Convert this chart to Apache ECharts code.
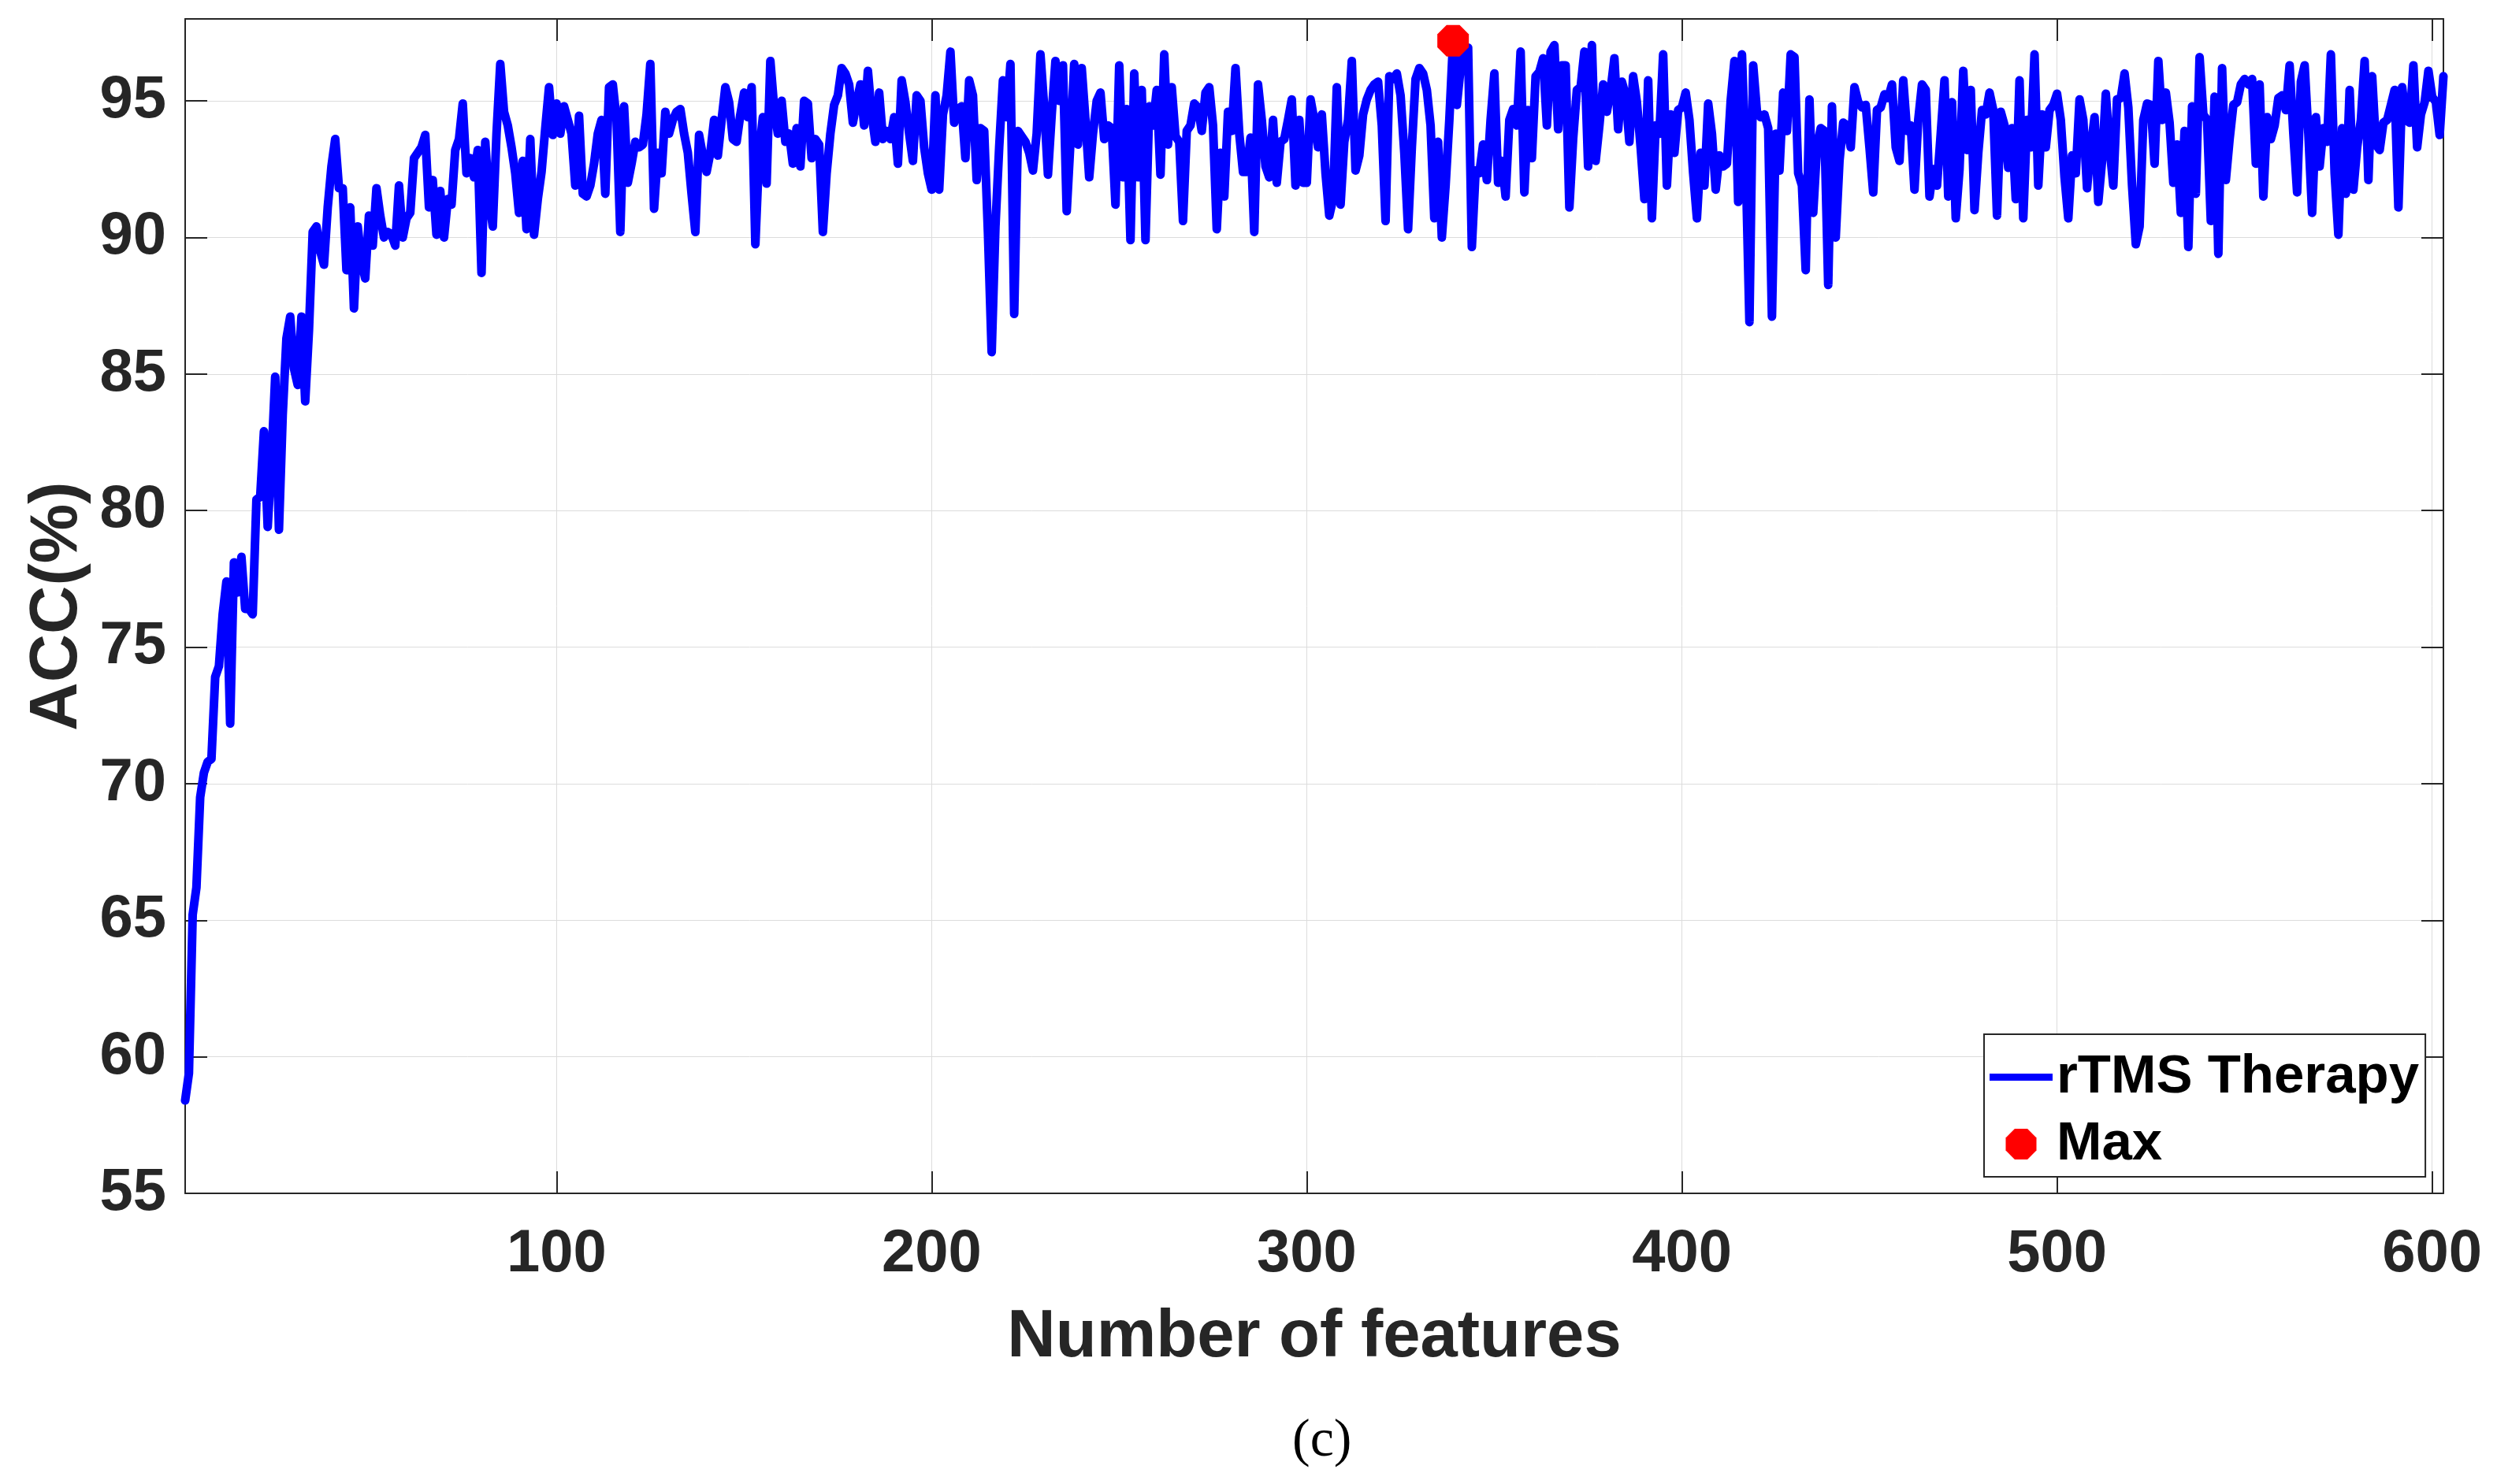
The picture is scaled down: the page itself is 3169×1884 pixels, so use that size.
<!DOCTYPE html>
<html>
<head>
<meta charset="utf-8">
<script src="https://cdn.jsdelivr.net/npm/echarts@6/dist/echarts.min.js"></script>
<style>
html,body{margin:0;padding:0;background:#ffffff;}
#chart{width:3169px;height:1884px;}
</style>
</head>
<body>
<div id="chart"></div>
<script>
// ---- data (ACC % for number of features 1..603) ----
const acc001 = [
58.4,59.4,65.2,66.2,69.5,70.4,70.8,70.9,73.9,74.3,
76.2,77.4,72.2,78.1,77.0,78.3,76.4,76.4,76.2,80.4,
80.5,82.9,79.4,81.8,84.9,79.3,83.5,86.3,87.1,85.2,
84.6,87.1,84.0,86.6,90.2,90.4,89.5,89.0,91.1,92.6,
93.6,91.8,91.8,88.8,91.1,87.4,90.4,89.1,88.5,90.8,
89.7,91.8,90.8,90.0,90.2,90.1,89.7,91.9,90.0,90.7,
90.9,92.9,93.1,93.3,93.75,91.1,92.1,90.1,91.7,90.0,
91.4,91.2,93.2,93.6,94.9,92.35,92.9,92.2,93.2,88.7,
93.5,91.4,90.4,93.8,96.35,94.6,94.1,93.3,92.35,90.9,
92.8,90.3,93.6,90.1,91.4,92.4,94.0,95.5,93.75,94.9
];
const acc101 = [
93.8,94.8,94.3,93.8,91.9,94.45,91.6,91.5,91.9,92.7,
93.8,94.3,91.6,95.5,95.6,94.3,90.2,94.8,92.0,92.7,
93.5,93.3,93.4,94.5,96.35,91.05,93.1,92.35,94.6,93.8,
94.3,94.6,94.7,93.8,93.1,91.6,90.2,93.75,93.0,92.4,
93.1,94.3,93.0,94.3,95.5,94.95,93.6,93.5,94.5,95.3,
94.4,95.5,89.75,93.1,94.4,91.97,96.46,94.76,93.8,95.0,
93.5,93.8,92.7,94.0,92.6,95.0,94.9,92.9,93.6,93.4,
90.2,92.35,93.8,94.85,95.2,96.2,96.0,95.6,94.2,94.95,
95.6,94.1,96.1,94.5,93.5,95.3,93.6,93.9,93.6,94.4,
92.7,95.75,94.95,93.8,92.8,95.2,95.0,93.3,92.35,91.75
];
const acc201 = [
95.2,91.75,94.5,95.2,96.8,94.2,94.7,94.8,92.9,95.75,
95.2,92.1,94.0,93.9,90.2,85.8,90.4,93.3,95.75,94.4,
96.35,87.2,93.9,93.7,93.5,93.1,92.45,93.8,96.7,94.76,
92.3,94.5,96.46,95.0,96.3,90.96,93.5,96.35,93.4,96.2,
94.3,92.2,93.8,95.0,95.3,93.6,94.1,94.0,91.2,96.3,
92.2,94.7,89.9,96.0,92.2,95.4,89.9,94.8,94.1,95.4,
92.3,96.7,93.4,95.5,93.7,93.5,90.6,93.9,94.1,94.9,
94.76,93.9,95.3,95.5,94.1,90.3,93.1,91.5,94.6,93.9,
96.2,93.8,92.4,92.4,93.65,90.2,95.6,94.3,92.6,92.2,
94.3,92.0,93.5,93.6,94.3,95.05,91.9,94.3,92.0,92.0
];
const acc301 = [
95.05,94.3,93.3,94.5,92.35,90.8,91.4,95.5,91.2,93.5,
94.3,96.46,92.45,93.0,94.5,95.05,95.4,95.6,95.7,94.1,
90.6,95.9,95.8,96.0,95.2,93.1,90.3,93.3,95.8,96.2,
96.0,95.4,94.1,90.7,93.5,90.0,91.9,94.3,97.2,94.85,
96.2,96.9,96.95,89.65,92.45,92.35,93.4,92.1,94.3,96.0,
92.0,92.8,91.5,94.3,94.7,94.1,96.8,91.65,94.66,92.9,
95.9,96.06,96.56,94.1,96.8,97.04,93.96,96.3,96.3,91.1,
93.6,95.4,95.5,96.8,92.6,97.04,92.8,94.1,95.6,94.6,
95.4,96.56,93.96,95.7,95.2,93.5,95.9,94.95,93.3,91.4,
95.75,90.7,94.1,93.8,96.7,91.9,94.5,93.1,94.66,94.76
];
const acc401 = [
95.3,94.3,92.35,90.7,93.1,91.9,94.9,93.8,91.75,93.0,
92.6,92.7,95.0,96.46,91.3,96.7,92.8,86.9,96.3,94.6,
94.4,94.5,94.0,87.1,93.8,92.45,95.3,93.9,96.7,96.6,
92.35,91.9,88.8,95.05,90.9,93.3,94.0,93.9,88.26,94.8,
90.0,92.8,94.2,94.1,93.3,95.5,94.95,94.76,94.85,93.3,
91.65,94.66,94.76,95.24,95.1,95.6,93.3,92.8,95.75,93.9,
94.1,91.75,94.3,95.6,95.4,91.5,92.5,91.9,93.8,95.75,
91.5,94.95,90.7,92.5,96.1,93.2,95.4,91.0,93.1,94.66,
94.5,95.3,94.66,90.8,94.6,94.1,92.55,94.0,91.4,95.75,
90.7,94.3,93.3,96.7,91.9,94.5,93.3,94.66,94.85,95.26
];
const acc501 = [
94.3,92.2,90.7,93.0,92.35,95.05,94.3,91.8,93.3,94.4,
91.3,92.8,95.26,93.3,91.9,95.05,95.1,96.0,94.76,91.9,
89.75,90.4,94.3,94.9,94.85,92.7,96.46,94.3,95.3,94.2,
92.0,93.4,90.9,93.9,89.65,94.8,91.6,96.6,94.5,94.3,
90.6,95.15,89.4,96.2,92.1,93.6,94.85,94.95,95.6,95.8,
95.6,95.8,92.7,95.6,91.5,94.4,93.6,94.1,95.1,95.2,
94.66,96.3,93.8,91.65,95.7,96.3,93.8,90.9,94.4,92.6,
94.0,93.5,96.7,92.35,90.1,94.0,91.6,95.4,91.75,93.3,
94.3,96.46,92.1,95.9,93.4,93.2,94.2,94.3,94.85,95.4,
91.1,95.5,94.3,94.2,96.3,93.3,94.5,94.95,96.1,95.15,
94.95,93.75,95.9
];
const featureStart = 1;
const xTickValues = [100, 200, 300, 400, 500, 600];
const yTickValues = [55, 60, 65, 70, 75, 80, 85, 90, 95];
const seriesName = 'rTMS Therapy';
const maxName = 'Max';
const xAxisTitle = 'Number of features';
const yAxisTitle = 'ACC(%)';
const captionText = '(c)';

// ---- build ----
const accAll = [].concat(acc001, acc101, acc201, acc301, acc401, acc501);
const lineData = accAll.map((v, i) => [featureStart + i, v]);
let maxIdx = 0;
accAll.forEach((v, i) => { if (v > accAll[maxIdx]) maxIdx = i; });
const maxData = [[featureStart + maxIdx, accAll[maxIdx]]];

const FONT = '"Liberation Sans", Arial, Helvetica, sans-serif';
const AX = '#262626';
const OCT = 'path://M29.3,0L70.7,0L100,29.3L100,70.7L70.7,100L29.3,100L0,70.7L0,29.3Z';
const xMin = 1, xMax = 603, yMin = 55, yMax = 98;

const chart = echarts.init(document.getElementById('chart'), null, {renderer: 'canvas'});

const tickCommon = {show: true, inside: true, length: 28, lineStyle: {color: AX, width: 2}};
const lineCommon = {show: true, onZero: false, lineStyle: {color: AX, width: 2}};

chart.setOption({
  backgroundColor: '#ffffff',
  animation: false,
  grid: {left: 235, top: 24, right: 68, bottom: 369, containLabel: false, outerBoundsMode: 'none'},
  xAxis: [
    {
      type: 'value', min: xMin, max: xMax, position: 'bottom',
      name: xAxisTitle, nameLocation: 'middle', nameGap: 141,
      nameTextStyle: {fontFamily: FONT, fontWeight: 'bold', fontSize: 85, color: AX},
      axisLine: lineCommon,
      axisTick: Object.assign({customValues: xTickValues}, tickCommon),
      axisLabel: {customValues: xTickValues, fontFamily: FONT, fontWeight: 'bold', fontSize: 76, color: AX, margin: 40, lineHeight: 76},
      splitLine: {show: true, lineStyle: {color: '#dcdcdc', width: 1}}
    },
    {
      type: 'value', min: xMin, max: xMax, position: 'top',
      axisLine: lineCommon,
      axisTick: Object.assign({customValues: xTickValues}, tickCommon),
      axisLabel: {show: false}, splitLine: {show: false}
    }
  ],
  yAxis: [
    {
      type: 'value', min: yMin, max: yMax, interval: 5, position: 'left',
      name: yAxisTitle, nameLocation: 'middle', nameGap: 106,
      nameTextStyle: {fontFamily: FONT, fontWeight: 'bold', fontSize: 85, color: AX},
      axisLine: lineCommon,
      axisTick: Object.assign({customValues: yTickValues}, tickCommon),
      axisLabel: {customValues: yTickValues, fontFamily: FONT, fontWeight: 'bold', fontSize: 76, color: AX, margin: 24},
      splitLine: {show: true, lineStyle: {color: '#dcdcdc', width: 1}}
    },
    {
      type: 'value', min: yMin, max: yMax, interval: 5, position: 'right',
      axisLine: lineCommon,
      axisTick: Object.assign({customValues: yTickValues}, tickCommon),
      axisLabel: {show: false}, splitLine: {show: false}
    }
  ],
  legend: {
    orient: 'vertical', left: 2518, top: 1313,
    padding: [20, 8, 7, 7], itemGap: 16, itemWidth: 80, itemHeight: 39,
    backgroundColor: '#ffffff', borderColor: AX, borderWidth: 2, borderRadius: 0,
    textStyle: {fontFamily: FONT, fontWeight: 'bold', fontSize: 69, color: '#000000'},
    itemStyle: {borderWidth: 0},
    data: [
      {name: seriesName, icon: 'path://M0,0L80,0L80,9L0,9Z', itemStyle: {color: '#0000ff', borderWidth: 0}},
      {name: maxName, icon: OCT, itemStyle: {color: '#ff0000', borderWidth: 0}}
    ]
  },
  series: [
    {
      name: seriesName, type: 'line', xAxisIndex: 0, yAxisIndex: 0,
      data: lineData, symbol: 'none', showSymbol: false, smooth: false,
      lineStyle: {color: '#0000ff', width: 11, cap: 'round', join: 'round'},
      itemStyle: {color: '#0000ff'},
      z: 3
    },
    {
      name: maxName, type: 'scatter', xAxisIndex: 0, yAxisIndex: 0,
      data: maxData, symbol: OCT, symbolSize: 40,
      itemStyle: {color: '#ff0000', borderWidth: 0, opacity: 1},
      clip: false, z: 4
    }
  ],
  graphic: [
    {
      type: 'text', left: 1640, top: 1796,
      style: {text: captionText, fontFamily: '"Liberation Serif", "Times New Roman", serif', fontSize: 68, fill: '#000000'}
    }
  ]
});
</script>
</body>
</html>
